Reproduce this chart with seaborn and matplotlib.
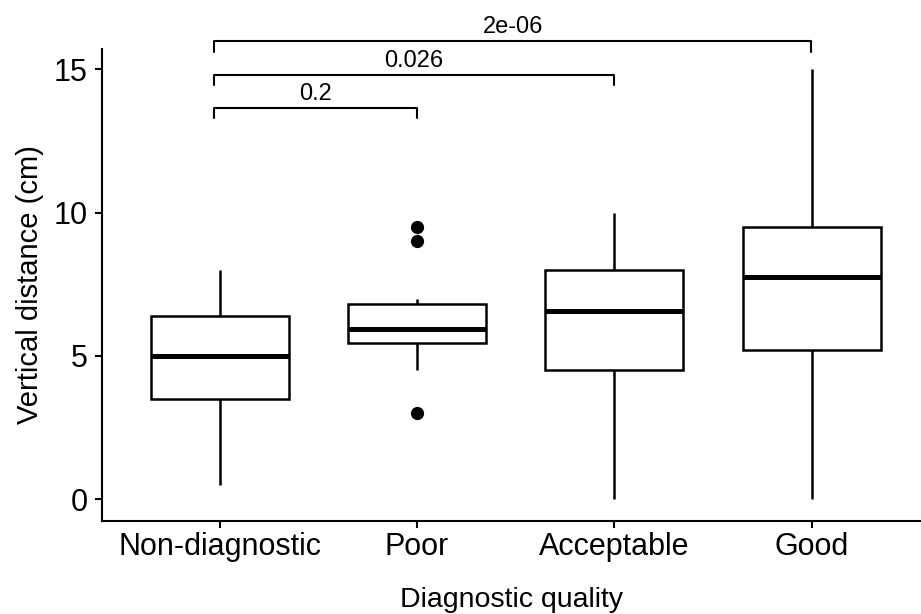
import pandas as pd
import seaborn as sns
import matplotlib.pyplot as plt

# values per group (chosen to give the boxes, whiskers and outliers seen in the figure)
categories = ["Non-diagnostic", "Poor", "Acceptable", "Good"]
non_diagnostic = [0.5, 3.5, 5.0, 6.4, 8.0]
poor = [3.0, 4.5, 5.2, 5.45, 5.6, 5.8, 5.95, 6.2, 6.5, 6.8, 7.0, 9.0, 9.5]
acceptable = [0.0, 4.5, 6.55, 8.0, 10.0]
good = [0.0, 5.2, 7.75, 9.5, 15.0]

# pairwise comparisons: (group a, group b, p-value label, bracket height)
comparisons = [
    ("Non-diagnostic", "Poor", "0.2", 13.66),
    ("Non-diagnostic", "Acceptable", "0.026", 14.81),
    ("Non-diagnostic", "Good", "2e-06", 15.99),
]

df = pd.DataFrame({
    "quality": (["Non-diagnostic"] * len(non_diagnostic) + ["Poor"] * len(poor)
                + ["Acceptable"] * len(acceptable) + ["Good"] * len(good)),
    "distance": non_diagnostic + poor + acceptable + good,
})

sns.set_style("ticks")
plt.rcParams["font.family"] = ["Liberation Sans", "DejaVu Sans"]
plt.rcParams["text.color"] = "black"
plt.rcParams["axes.labelcolor"] = "black"

fig = plt.figure(figsize=(9.21, 6.14), dpi=100)
ax = fig.add_axes([0.1103, 0.152, 0.8897, 0.7677])

sns.boxplot(
    data=df, x="quality", y="distance", order=categories,
    color="white", linecolor="black", linewidth=1.8, width=0.7,
    showcaps=False, saturation=1,
    medianprops=dict(linewidth=3.6, color="black"),
    flierprops=dict(marker="o", markerfacecolor="black", markeredgecolor="black",
                    markersize=8.5),
    ax=ax,
)

ax.set_xlim(-0.6, 3.555)
ax.set_ylim(-0.75, 15.7)
ax.set_yticks([0, 5, 10, 15])

# significance brackets, drawn above the panel
pos = {c: i for i, c in enumerate(categories)}
for a, b, label, h in comparisons:
    x1, x2 = pos[a] - 0.03, pos[b] - 0.002
    tip = 0.37
    ax.plot([x1, x1, x2, x2], [h - tip, h, h, h - tip], color="black",
            linewidth=1.5, clip_on=False)
    ax.text((x1 + x2) / 2, h + 0.1, label, ha="center", va="bottom",
            fontsize=17, color="black", clip_on=False)

sns.despine(ax=ax)
for side in ["left", "bottom"]:
    ax.spines[side].set_linewidth(1.5)
    ax.spines[side].set_color("black")
ax.tick_params(axis="both", labelsize=22, width=1.5, length=5, color="black",
               labelcolor="black")
ax.tick_params(axis="x", pad=3)
ax.tick_params(axis="y", pad=5)

ax.set_xlabel("Diagnostic quality", fontsize=20.5, labelpad=18)
ax.set_ylabel("Vertical distance (cm)", fontsize=21)
ax.yaxis.set_label_coords(-0.07, 0.5)

fig.savefig("out.png", dpi=100)
